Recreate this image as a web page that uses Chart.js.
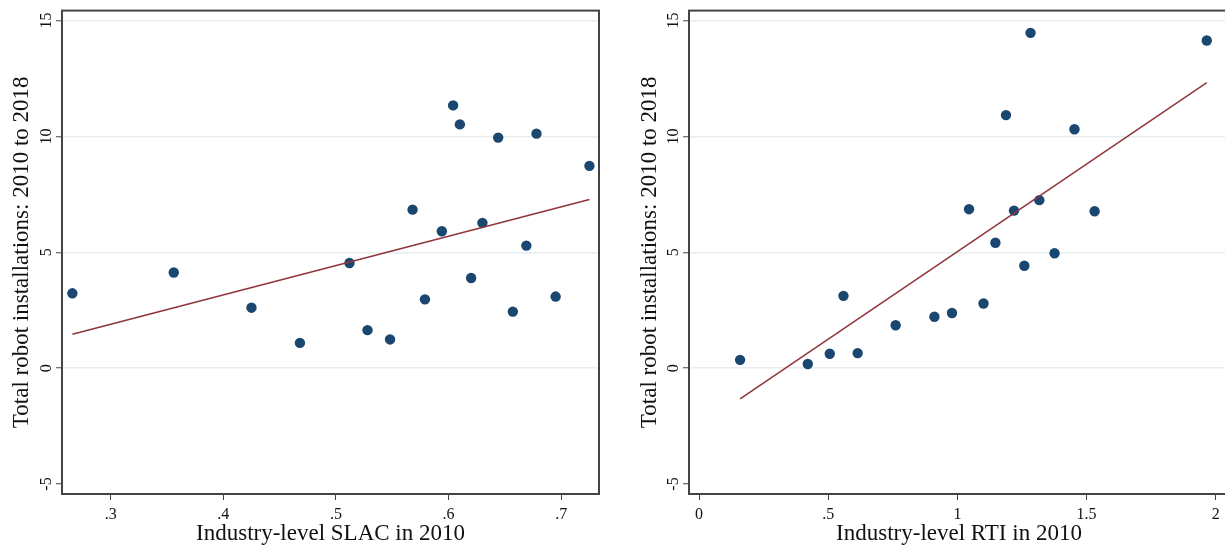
<!DOCTYPE html>
<html>
<head>
<meta charset="utf-8">
<script src="https://cdn.jsdelivr.net/npm/chart.js@4.4.1/dist/chart.umd.min.js"></script>
<style>
    html, body { margin: 0; padding: 0; background: #fff; overflow: hidden; }
    body { width: 1225px; height: 548px; position: relative; }
    canvas { position: absolute; top: 0; }
    #slacChart { left: 0; }
    #rtiChart { left: 612px; }
</style>
</head>
<body>
<canvas id="slacChart" width="612" height="548"></canvas>
<canvas id="rtiChart" width="630" height="548"></canvas>
<script>
// left panel: SLAC vs robot installations
const slacX = [0.266, 0.356, 0.425, 0.468, 0.512, 0.528, 0.548, 0.568, 0.579, 0.594,
               0.604, 0.610, 0.620, 0.630, 0.644, 0.657, 0.669, 0.678, 0.695, 0.725];
const slacY = [3.23, 4.13, 2.61, 1.09, 4.54, 1.64, 1.24, 6.84, 2.97, 5.91,
               11.34, 10.52, 3.89, 6.27, 9.95, 2.44, 5.29, 10.12, 3.09, 8.73];
const slacFitX = [0.266, 0.725];
const slacFitY = [1.46, 7.28];
const slacTicks = [0.3, 0.4, 0.5, 0.6, 0.7];

// right panel: RTI vs robot installations
const rtiX = [0.159, 0.421, 0.506, 0.559, 0.614, 0.761, 0.911, 0.979, 1.045, 1.101,
              1.147, 1.188, 1.219, 1.259, 1.283, 1.317, 1.376, 1.453, 1.531, 1.965];
const rtiY = [0.36, 0.18, 0.62, 3.12, 0.65, 1.85, 2.22, 2.38, 6.86, 2.79,
              5.41, 10.92, 6.80, 4.42, 14.47, 7.25, 4.96, 10.31, 6.77, 14.14];
const rtiFitX = [0.159, 1.965];
const rtiFitY = [-1.33, 12.32];
const rtiTicks = [0, 0.5, 1, 1.5, 2];

const yTicks = [-5, 0, 5, 10, 15];
const yTitle = 'Total robot installations: 2010 to 2018';

const navy = '#1a476f';
const maroon = '#90353b';
const frameColor = '#444444';
const serif = "'Liberation Serif', 'Times New Roman', serif";

function toPoints(xs, ys) {
    return xs.map((x, i) => ({ x: x, y: ys[i] }));
}

function stataLabel(v) {
    let s = String(Number(v.toFixed(2)));
    if (s.startsWith('0.')) s = s.slice(1);
    if (s.startsWith('-0.')) s = '-' + s.slice(2);
    return s;
}

// box around the plot region, like the stata graph frame
const framePlugin = {
    id: 'frame',
    afterDatasetsDraw(chart) {
        const a = chart.chartArea;
        const ctx = chart.ctx;
        ctx.save();
        ctx.strokeStyle = frameColor;
        ctx.lineWidth = 2;
        ctx.strokeRect(a.left, a.top, a.right - a.left, a.bottom - a.top);
        ctx.restore();
    }
};

function scatterPanel(id, opts) {
    const ctx = document.getElementById(id).getContext('2d');
    new Chart(ctx, {
        type: 'scatter',
        data: {
            datasets: [{
                label: 'points',
                data: toPoints(opts.xs, opts.ys),
                backgroundColor: navy,
                borderWidth: 0,
                pointRadius: 5.2,
                order: 2
            }, {
                type: 'line',
                label: 'fit',
                data: toPoints(opts.fitX, opts.fitY),
                borderColor: maroon,
                borderWidth: 1.5,
                pointRadius: 0,
                fill: false,
                order: 1
            }]
        },
        options: {
            responsive: false,
            animation: false,
            layout: { padding: { left: 0, top: 10, right: opts.rightPad, bottom: 0 } },
            plugins: {
                legend: { display: false },
                tooltip: { enabled: false }
            },
            scales: {
                x: {
                    type: 'linear',
                    min: opts.xMin,
                    max: opts.xMax,
                    afterFit: (scale) => { scale.height = 54; },
                    afterBuildTicks: (scale) => { scale.ticks = opts.xTicks.map(v => ({ value: v })); },
                    border: { display: false },
                    grid: {
                        drawOnChartArea: false,
                        drawTicks: true,
                        tickLength: 6,
                        tickColor: frameColor,
                        tickWidth: 1
                    },
                    ticks: {
                        padding: 5,
                        maxRotation: 0,
                        color: '#111',
                        font: { family: serif, size: 16 },
                        callback: (v) => stataLabel(v)
                    },
                    title: {
                        display: true,
                        text: opts.xTitle,
                        color: '#111',
                        font: { family: serif, size: 23 },
                        padding: { top: 0, bottom: 0 }
                    }
                },
                y: {
                    min: -5.43,
                    max: 15.43,
                    afterFit: (scale) => { scale.width = opts.yWidth; },
                    afterBuildTicks: (scale) => { scale.ticks = yTicks.map(v => ({ value: v })); },
                    border: { display: false },
                    grid: {
                        color: (c) => (c.tick && c.tick.value === -5) ? 'rgba(0,0,0,0)' : '#e6eef0',
                        lineWidth: 1.5,
                        drawTicks: true,
                        tickLength: 6,
                        tickColor: frameColor,
                        tickWidth: 1
                    },
                    ticks: {
                        minRotation: 90,
                        maxRotation: 90,
                        crossAlign: 'center',
                        padding: 1,
                        color: '#111',
                        font: { family: serif, size: 16 },
                        callback: (v) => stataLabel(v)
                    },
                    title: {
                        display: true,
                        text: yTitle,
                        color: '#111',
                        font: { family: serif, size: 23 },
                        padding: { top: opts.yTitlePad, bottom: 0 }
                    }
                }
            }
        },
        plugins: [framePlugin]
    });
}

document.addEventListener('DOMContentLoaded', () => {
    scatterPanel('slacChart', {
        xs: slacX, ys: slacY, fitX: slacFitX, fitY: slacFitY,
        xTicks: slacTicks, xMin: 0.2568, xMax: 0.7335,
        xTitle: 'Industry-level SLAC in 2010',
        yWidth: 62, rightPad: 13, yTitlePad: 8
    });
    scatterPanel('rtiChart', {
        xs: rtiX, ys: rtiY, fitX: rtiFitX, fitY: rtiFitY,
        xTicks: rtiTicks, xMin: -0.0387, xMax: 2.051,
        xTitle: 'Industry-level RTI in 2010',
        yWidth: 77, rightPad: 13, yTitlePad: 24
    });
});
</script>
</body>
</html>
